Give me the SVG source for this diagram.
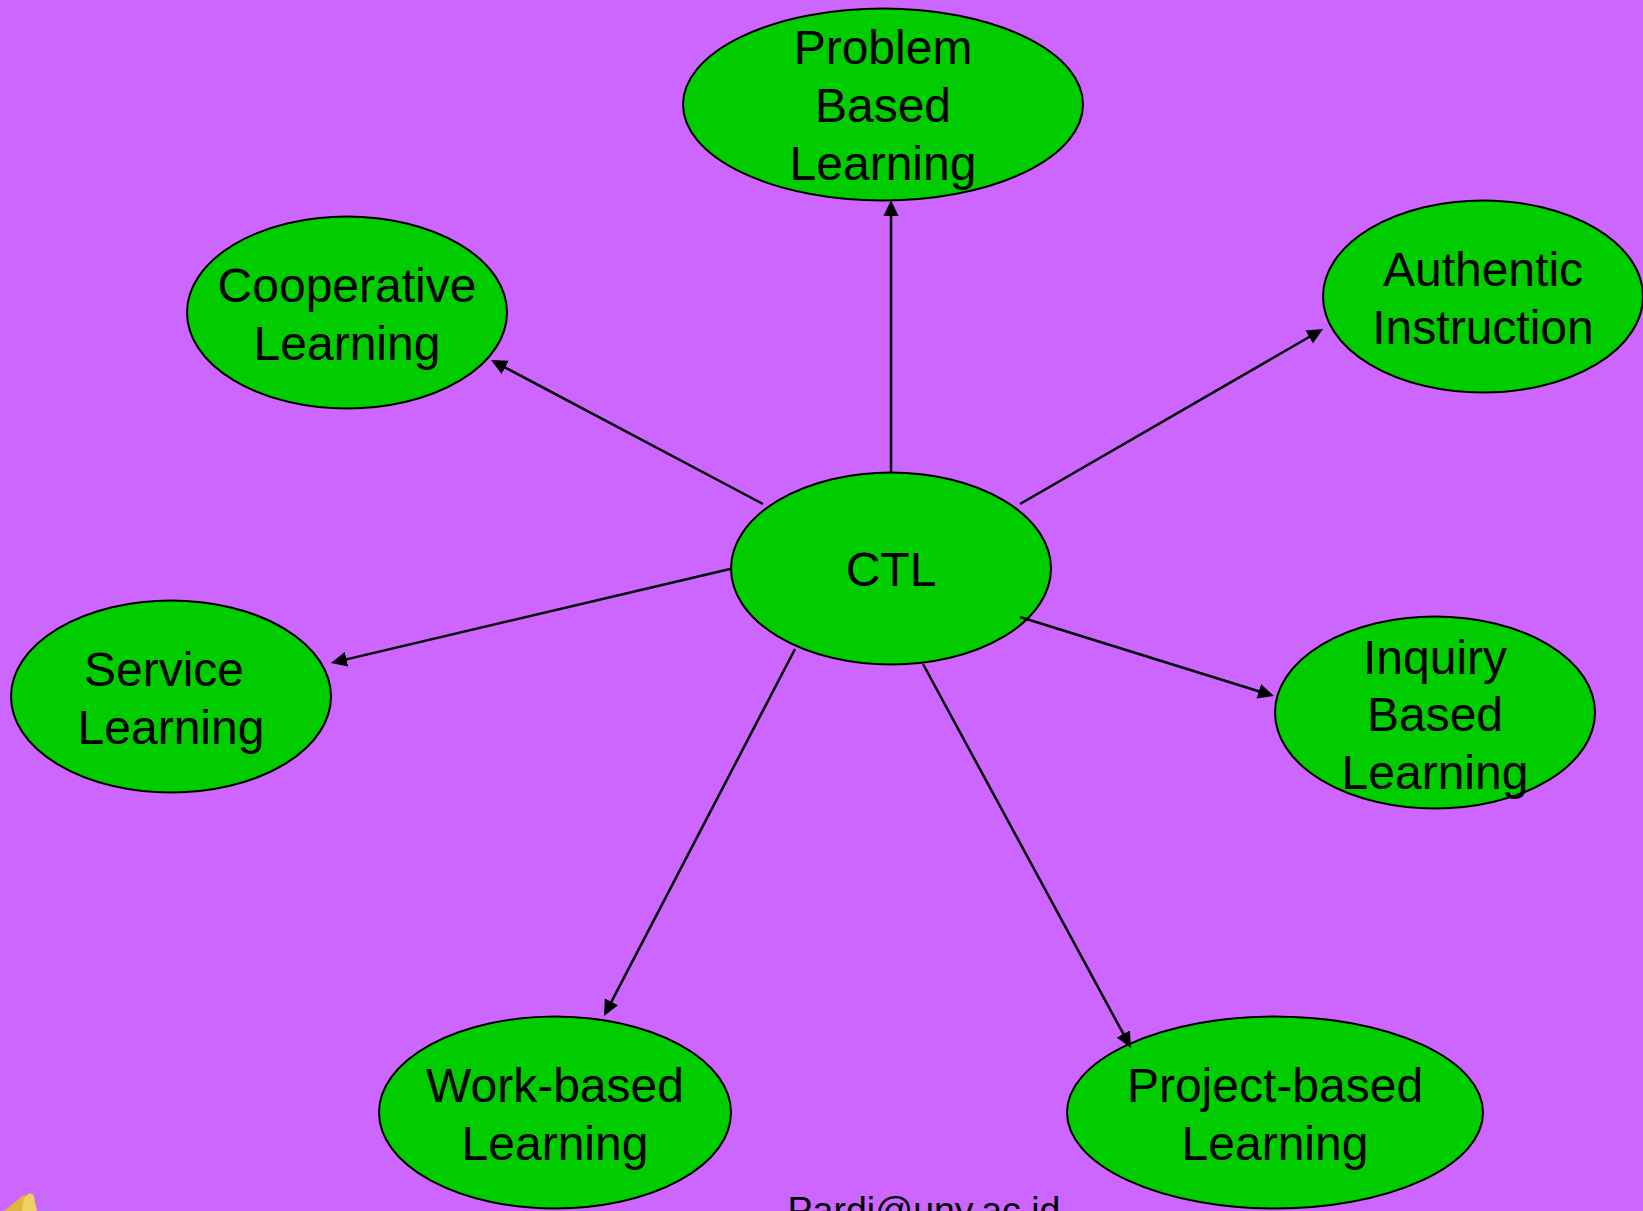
<svg xmlns="http://www.w3.org/2000/svg" width="1643" height="1211" viewBox="0 0 1643 1211">
<style>
.n ellipse{fill:#00cc00;stroke:#000;stroke-width:2}
.n text,.f{font-family:"Liberation Sans",Arial,sans-serif;font-size:48px;fill:#000;text-anchor:middle}
.c line{stroke:#000;stroke-width:2.5;marker-end:url(#a)}
</style>
<defs><marker id="a" markerUnits="userSpaceOnUse" markerWidth="17" markerHeight="16" refX="10" refY="8" orient="auto"><path d="M0 0.5L16 8L0 15.5Z" fill="#000"/></marker></defs>
<rect width="1643" height="1211" fill="#cc66ff"/>
<g id="n-problem" class="n"><ellipse cx="883" cy="104.500" rx="200" ry="96"/><text x="883" y="64">Problem</text><text x="883" y="122">Based</text><text x="883" y="180">Learning</text></g>
<g id="n-cooperative" class="n"><ellipse cx="347" cy="312.500" rx="160" ry="96"/><text x="347" y="302">Cooperative</text><text x="347" y="360">Learning</text></g>
<g id="n-authentic" class="n"><ellipse cx="1483" cy="296.500" rx="160" ry="96"/><text x="1483" y="286">Authentic</text><text x="1483" y="344">Instruction</text></g>
<g id="n-ctl" class="n"><ellipse cx="891" cy="568.500" rx="160" ry="96"/><text x="891" y="586">CTL</text></g>
<g id="n-service" class="n"><ellipse cx="171" cy="696.500" rx="160" ry="96"/><text x="164" y="686">Service</text><text x="171" y="744">Learning</text></g>
<g id="n-inquiry" class="n"><ellipse cx="1435" cy="712.500" rx="160" ry="96"/><text x="1435" y="674">Inquiry</text><text x="1435" y="731">Based</text><text x="1435" y="789">Learning</text></g>
<g id="n-work" class="n"><ellipse cx="555" cy="1112.500" rx="176" ry="96"/><text x="555" y="1102">Work-based</text><text x="555" y="1160">Learning</text></g>
<g id="n-project" class="n"><ellipse cx="1275" cy="1112.500" rx="208" ry="96"/><text x="1275" y="1102">Project-based</text><text x="1275" y="1160">Learning</text></g>
<g id="connectors" class="c">
<line x1="891" y1="472" x2="891" y2="206"/>
<line x1="763" y1="504" x2="496.300" y2="362.800"/>
<line x1="1020" y1="504" x2="1317.800" y2="332"/>
<line x1="730" y1="569" x2="336.800" y2="661.600"/>
<line x1="1020" y1="617" x2="1268.300" y2="694.200"/>
<line x1="795" y1="649" x2="606.800" y2="1010.700"/>
<line x1="923" y1="664" x2="1128.100" y2="1042.700"/>
</g>
<text class="f" x="924" y="1223" style="font-size:37.500px">Pardi@uny.ac.id</text>
<g id="icon"><path d="M4 1211Q14 1203 25 1194L25 1211Z" fill="#e0b63a"/><path d="M22 1211Q22 1198 28 1194Q33 1192 34 1197L37 1211Z" fill="#f0d060"/><path d="M38 1201L46 1195M42 1211L52 1206" stroke="#9a8ae8" stroke-width="1.500" fill="none"/></g>
</svg>
